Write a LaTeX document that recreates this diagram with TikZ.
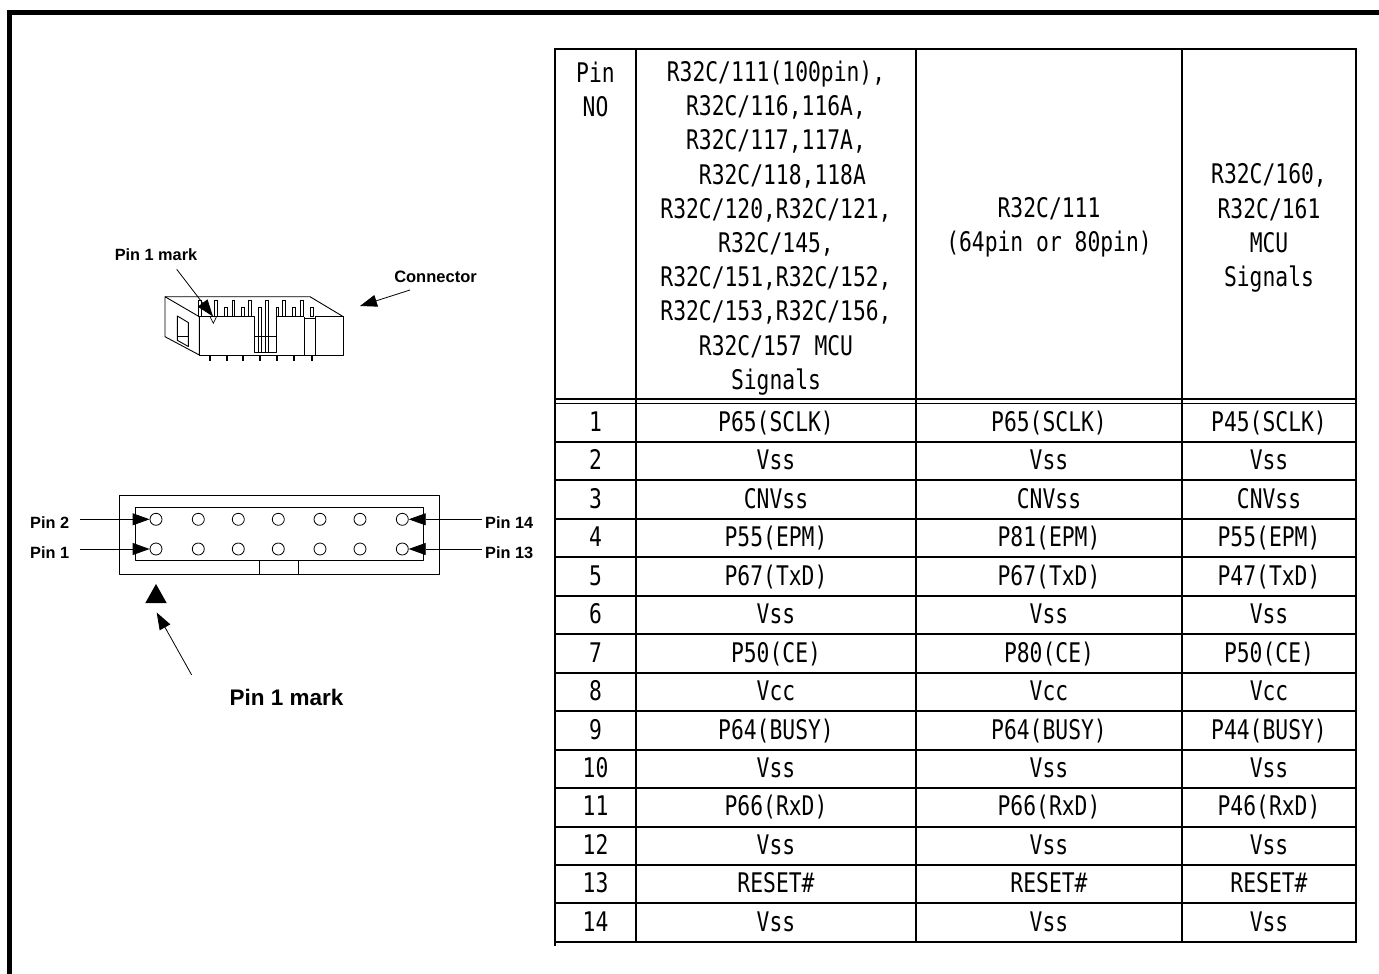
\documentclass[tikz,border=0pt]{standalone}
\usepackage{fontspec}
\setmainfont{Liberation Sans}
\newfontfamily\gothic[FakeStretch=0.79]{DejaVu Sans Mono}
\usetikzlibrary{arrows.meta}
\begin{document}
\begin{tikzpicture}[x=1pt,y=-1pt,
  lbl/.style={font=\bfseries\fontsize{16.3}{19}\selectfont, inner sep=0pt},
  biglbl/.style={font=\bfseries\fontsize{22.5}{26}\selectfont, inner sep=0pt},
  arr/.style={-{Triangle[length=17pt,width=12pt]}, line width=0.8pt},
  cl/.style={line width=0.9pt, line join=round},
  pinr/.style={line width=0.6pt, fill=white},
  hole/.style={circle, draw, line width=0.8pt, minimum size=12pt, inner sep=0pt},
  cell/.style={font=\gothic\fontsize{27}{34.2}\selectfont, inner sep=0pt, align=center},
  gridl/.style={line width=2pt}]
\useasboundingbox (0,0) rectangle (1379,974);
% outer frame
\draw[line width=5pt, line join=miter] (9.5,980) -- (9.5,12.5) -- (1385,12.5);

% ---------- connector 3D view ----------
\draw[cl] (165,296.7) -- (310,296.7) -- (343.3,316.7);
\foreach \x in {200,216,233.3,250,284,301.7}
  \draw[pinr] (\x-1.3,300.7) rectangle (\x+1.3,316.7);
\draw[pinr] (266.7-1.3,300.7) rectangle (266.7+1.3,352.3);
\foreach \x in {226,242.7,277.3,294,311.7}
  \draw[pinr] (\x-1.3,307.3) rectangle (\x+1.3,316.7);
\draw[pinr] (260-1.3,307.3) rectangle (260+1.3,352.3);
\draw[cl] (165,296.7) -- (199.3,316.7) -- (199.3,355) -- (165,336.7) -- cycle;
\draw[cl] (177.3,316) -- (188.3,322.5) -- (188.3,346.5) -- (177.3,340.3) -- cycle;
\draw[cl] (177.3,336.7) -- (188.3,336.7);
\draw[cl] (199.3,316.7) -- (254.3,316.7) -- (254.3,352.3) -- (276.7,352.3) -- (276.7,316.7) -- (304,316.7);
\draw[cl] (254.3,336.7) -- (276.7,336.7);
\draw[cl] (304,316.7) -- (304,355);
\draw[cl] (304,318.3) -- (315,318.3);
\draw[cl] (315,316.7) -- (315,355);
\draw[cl] (315,316.7) -- (343.3,316.7) -- (343.3,355) -- (199.3,355);
\foreach \x in {210,226.7,243.3,260,277.3,294,311.7}
  \draw[line width=1.8pt] (\x,355.5) -- (\x,360.7);
\draw[line width=0.7pt] (210,316.7) -- (213.3,323.3) -- (216.5,316.7);
\node[lbl] (mark1) at (156,255) {Pin 1 mark};
\coordinate (m1s) at (176.7,269.3);
\coordinate (m1e) at (213,316.5);
\draw[arr] (m1s) -- (m1e);
\node[lbl, font=\bfseries\fontsize{16.5}{19}\selectfont] (conn) at (435.5,277) {Connector};
\coordinate (cs) at (410,290);
\coordinate (ce) at (360,306);
\draw[arr] (cs) -- (ce);

% ---------- pin header top view ----------
\draw[cl] (119,495) rectangle (439,574);
\draw[cl] (135.7,507.7) rectangle (423,560.7);
\draw[cl] (259,560.7) rectangle (298.7,574);
\foreach \k/\x in {1/156,2/198.3,3/238.3,4/278.3,5/320,6/360,7/402.3} {
  \node[hole] (t\k) at (\x,519.3) {};
  \node[hole] (b\k) at (\x,549) {};
}
\node[lbl, anchor=west] (p2) at (30,522.5) {Pin 2};
\node[lbl, anchor=west] (p1) at (30,552.2) {Pin 1};
\node[lbl, anchor=west] (p14) at (485,522.5) {Pin 14};
\node[lbl, anchor=west] (p13) at (485,552.2) {Pin 13};
\coordinate (s2) at (80,519.3);
\coordinate (s1) at (80,549);
\coordinate (s14) at (482,519.3);
\coordinate (s13) at (482,549);
\draw[arr] (s2) -- (t1.west);
\draw[arr] (s1) -- (b1.west);
\draw[arr] (s14) -- (t7.east);
\draw[arr] (s13) -- (b7.east);
\fill (156,584) -- (166.7,603) -- (145.3,603) -- cycle;
\coordinate (tris) at (191.7,675);
\coordinate (trie) at (156.7,612.5);
\draw[arr] (tris) -- (trie);
\node[biglbl] (mark2) at (286.5,697) {Pin 1 mark};

% ---------- table ----------
\draw[gridl] (555,49) rectangle (1356,942);
\draw[line width=1.5pt] (555,942) -- (555,946);
\foreach \x in {636,916,1182}
  \draw[gridl] (\x,49) -- (\x,942);
\draw[line width=1.5pt] (555,399) -- (1356,399);
\draw[line width=1.5pt] (555,403.5) -- (1356,403.5);
\foreach \i in {1,...,13}
  \draw[gridl] (555,403.5+\i*38.46) -- (1356,403.5+\i*38.46);

\node[cell] (h0) at (595.5,89.5) {Pin\\NO};
\node[cell] (h1) at (776,228) {R32C/111(100pin),\\R32C/116,116A,\\R32C/117,117A,\\\ R32C/118,118A\\R32C/120,R32C/121,\\R32C/145,\\R32C/151,R32C/152,\\R32C/153,R32C/156,\\R32C/157 MCU\\Signals};
\node[cell] (h2) at (1049,227) {R32C/111\\(64pin or 80pin)};
\node[cell] (h3) at (1269,228) {R32C/160,\\R32C/161\\MCU\\Signals};

\foreach \i/\a/\b/\c in {1/P65(SCLK)/P65(SCLK)/P45(SCLK),
  2/Vss/Vss/Vss, 3/CNVss/CNVss/CNVss, 4/P55(EPM)/P81(EPM)/P55(EPM),
  5/P67(TxD)/P67(TxD)/P47(TxD), 6/Vss/Vss/Vss, 7/P50(CE)/P80(CE)/P50(CE),
  8/Vcc/Vcc/Vcc, 9/P64(BUSY)/P64(BUSY)/P44(BUSY), 10/Vss/Vss/Vss,
  11/P66(RxD)/P66(RxD)/P46(RxD), 12/Vss/Vss/Vss, 13/RESET\#/RESET\#/RESET\#,
  14/Vss/Vss/Vss} {
  \pgfmathsetmacro\yy{403.5+(\i-0.5)*38.46+8.6}
  \node[cell, anchor=base] (n\i) at (595.5,\yy) {\i};
  \node[cell, anchor=base] (a\i) at (776,\yy) {\a};
  \node[cell, anchor=base] (b\i) at (1049,\yy) {\b};
  \node[cell, anchor=base] (c\i) at (1269,\yy) {\c};
}
\end{tikzpicture}
\end{document}
